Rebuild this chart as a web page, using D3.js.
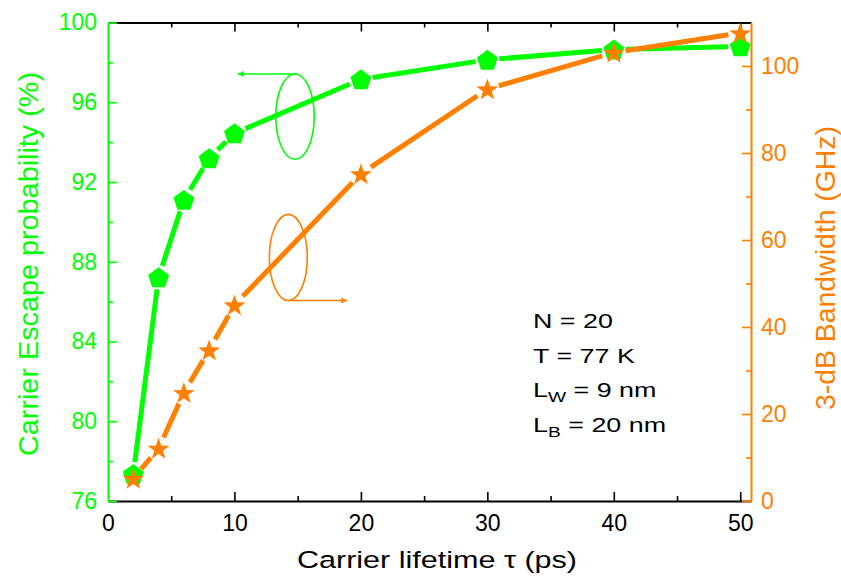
<!DOCTYPE html>
<html>
<head>
<meta charset="utf-8">
<script src="https://cdn.jsdelivr.net/npm/d3@7"></script>
<style>
  html, body { margin: 0; padding: 0; background: #fff; }
  svg { display: block; font-family: "Liberation Sans", Arial, sans-serif; }
</style>
</head>
<body>
<svg id="chart" width="841" height="579"></svg>
<script>
// ---------------- data ----------------
const lifetime = [2, 4, 6, 8, 10, 20, 30, 40, 50];                 // ps
const escapeProb = [77.35, 87.22, 91.1, 93.19, 94.44, 97.15, 98.13, 98.64, 98.8]; // %
const bandwidth = [5.2, 12.1, 24.9, 34.7, 45.06, 75.2, 94.7, 103.1, 107.6];     // GHz

const xMajorTicks = [0, 10, 20, 30, 40, 50];
const xMinorTicks = [5, 15, 25, 35, 45];
const yLeftMajorTicks = [76, 80, 84, 88, 92, 96, 100];
const yLeftMinorTicks = [78, 82, 86, 90, 94, 98];
const yRightMajorTicks = [0, 20, 40, 60, 80, 100];
const yRightMinorTicks = [10, 30, 50, 70, 90];

const annotationLines = [
  { main: "N = 20", sub: null, rest: null },
  { main: "T = 77 K", sub: null, rest: null },
  { main: "L", sub: "W", rest: " = 9 nm" },
  { main: "L", sub: "B", rest: " = 20 nm" }
];

// ---------------- setup ----------------
const GREEN = "#00FF00";
const ORANGE = "#FF8000";
const svg = d3.select("#chart");

const x = d3.scaleLinear().domain([0, 50.85]).range([108, 751]);
const yL = d3.scaleLinear().domain([76, 100]).range([501, 22.5]);
const yR = d3.scaleLinear().domain([0, 110]).range([501, 22.5]);
const plotTop = 22.5, plotBottom = 501, plotLeft = 108, plotRight = 751;

function styleAxis(g, color) {
  g.selectAll("path.domain").attr("stroke", color).attr("stroke-width", 2);
  g.selectAll(".tick line").attr("stroke", color).attr("stroke-width", 1.6);
  g.selectAll(".tick text").attr("fill", color)
    .style("font-family", "'Liberation Sans', Arial, sans-serif")
    .style("font-size", "23px");
}

function minor(axisFn, scale, ticks, color, transform) {
  const g = svg.append("g").attr("transform", transform)
    .call(axisFn(scale).tickValues(ticks).tickSize(-5).tickSizeOuter(0).tickFormat(""));
  g.select("path.domain").remove();
  g.selectAll(".tick line").attr("stroke", color).attr("stroke-width", 1.6);
}

minor(d3.axisBottom, x, xMinorTicks, "#000", `translate(0,${plotBottom})`);
minor(d3.axisTop, x, xMinorTicks, "#000", `translate(0,${plotTop})`);
minor(d3.axisLeft, yL, yLeftMinorTicks, GREEN, `translate(${plotLeft},0)`);
minor(d3.axisRight, yR, yRightMinorTicks, ORANGE, `translate(${plotRight},0)`);

// top axis
const gTop = svg.append("g").attr("transform", `translate(0,${plotTop})`)
  .call(d3.axisTop(x).tickValues(xMajorTicks.filter(v => v > 0)).tickSize(-9).tickSizeOuter(0).tickFormat(""));
styleAxis(gTop, "#000");

// bottom axis
const gBottom = svg.append("g").attr("transform", `translate(0,${plotBottom})`)
  .call(d3.axisBottom(x).tickValues(xMajorTicks).tickSize(-9).tickSizeOuter(0).tickPadding(14));
styleAxis(gBottom, "#000");
gBottom.selectAll(".tick line").filter(d => d === 0).remove();

// left axis
const gLeft = svg.append("g").attr("transform", `translate(${plotLeft},0)`)
  .call(d3.axisLeft(yL).tickValues(yLeftMajorTicks).tickSize(-9).tickSizeOuter(0).tickPadding(11));
styleAxis(gLeft, GREEN);

// right axis
const gRight = svg.append("g").attr("transform", `translate(${plotRight},0)`)
  .call(d3.axisRight(yR).tickValues(yRightMajorTicks).tickSize(-9).tickSizeOuter(0).tickPadding(10));
styleAxis(gRight, ORANGE);

// axis titles
svg.append("text")
  .attr("x", 297).attr("y", 568)
  .attr("font-size", 24.5).attr("fill", "#000")
  .attr("textLength", 280).attr("lengthAdjust", "spacingAndGlyphs")
  .text("Carrier lifetime τ (ps)");

svg.append("text")
  .attr("transform", `translate(38,264) rotate(-90)`)
  .attr("text-anchor", "middle")
  .attr("font-size", 28).attr("fill", GREEN)
  .attr("textLength", 384).attr("lengthAdjust", "spacingAndGlyphs")
  .text("Carrier Escape probability (%)");

svg.append("text")
  .attr("transform", `translate(835,268) rotate(-90)`)
  .attr("text-anchor", "middle")
  .attr("font-size", 28).attr("fill", ORANGE)
  .attr("textLength", 284).attr("lengthAdjust", "spacingAndGlyphs")
  .text("3-dB Bandwidth (GHz)");

// ---------------- series ----------------
function gappedSegments(xs, ys, ysc, gap) {
  const pts = xs.map((v, i) => [x(v), ysc(ys[i])]);
  const segs = [];
  for (let i = 0; i < pts.length - 1; i++) {
    const [x1, y1] = pts[i], [x2, y2] = pts[i + 1];
    const dx = x2 - x1, dy = y2 - y1, L = Math.hypot(dx, dy);
    if (L <= 2 * gap) continue;
    const ux = dx / L, uy = dy / L;
    segs.push([[x1 + ux * gap, y1 + uy * gap], [x2 - ux * gap, y2 - uy * gap]]);
  }
  return segs;
}

function pentagonPath(r) {
  const p = d3.path();
  for (let k = 0; k < 5; k++) {
    const a = -Math.PI / 2 + k * 2 * Math.PI / 5;
    const px = r * Math.cos(a), py = r * Math.sin(a);
    if (k === 0) p.moveTo(px, py); else p.lineTo(px, py);
  }
  p.closePath();
  return p.toString();
}
function starPath(R, r) {
  const p = d3.path();
  for (let k = 0; k < 10; k++) {
    const a = -Math.PI / 2 + k * Math.PI / 5;
    const rad = k % 2 === 0 ? R : r;
    const px = rad * Math.cos(a), py = rad * Math.sin(a);
    if (k === 0) p.moveTo(px, py); else p.lineTo(px, py);
  }
  p.closePath();
  return p.toString();
}

const line = d3.line();

// green series
const greenSegs = gappedSegments(lifetime, escapeProb, yL, 12);
svg.append("g").selectAll("path").data(greenSegs).join("path")
  .attr("d", d => line(d)).attr("stroke", GREEN).attr("stroke-width", 5).attr("fill", "none");
svg.append("g").selectAll("path").data(lifetime).join("path")
  .attr("transform", (d, i) => `translate(${x(d)},${yL(escapeProb[i]) + 1})`)
  .attr("d", pentagonPath(11)).attr("fill", GREEN);

// orange series
const orangeSegs = gappedSegments(lifetime, bandwidth, yR, 12);
svg.append("g").selectAll("path").data(orangeSegs).join("path")
  .attr("d", d => line(d)).attr("stroke", ORANGE).attr("stroke-width", 5).attr("fill", "none");
svg.append("g").selectAll("path").data(lifetime).join("path")
  .attr("transform", (d, i) => `translate(${x(d)},${yR(bandwidth[i]) + 1})`)
  .attr("d", starPath(11.5, 4.6)).attr("fill", ORANGE);

// ---------------- axis-pointer ellipses ----------------
const defs = svg.append("defs");
[["arrG", GREEN], ["arrO", ORANGE]].forEach(([id, c]) => {
  defs.append("marker").attr("id", id).attr("viewBox", "0 0 10 10")
    .attr("refX", 10).attr("refY", 5).attr("markerWidth", 10).attr("markerHeight", 6)
    .attr("markerUnits", "userSpaceOnUse").attr("orient", "auto")
    .append("path").attr("d", "M0,0 L10,5 L0,10 Z").attr("fill", c);
});

const gE = { cx: 14.79, cy: 95.28, rx: 1.52, ry: 2.14, to: 10.26 };
svg.append("ellipse")
  .attr("cx", x(gE.cx)).attr("cy", yL(gE.cy))
  .attr("rx", x(gE.cx + gE.rx) - x(gE.cx)).attr("ry", yL(gE.cy) - yL(gE.cy + gE.ry))
  .attr("fill", "none").attr("stroke", GREEN).attr("stroke-width", 1.6);
svg.append("line")
  .attr("x1", x(gE.cx)).attr("y1", yL(gE.cy + gE.ry))
  .attr("x2", x(gE.to)).attr("y2", yL(gE.cy + gE.ry))
  .attr("stroke", GREEN).attr("stroke-width", 1.4).attr("marker-end", "url(#arrG)");

const oE = { cx: 14.26, cy: 56.0, rx: 1.5, ry: 9.9, to: 18.92 };
svg.append("ellipse")
  .attr("cx", x(oE.cx)).attr("cy", yR(oE.cy))
  .attr("rx", x(oE.cx + oE.rx) - x(oE.cx)).attr("ry", yR(oE.cy) - yR(oE.cy + oE.ry))
  .attr("fill", "none").attr("stroke", ORANGE).attr("stroke-width", 1.6);
svg.append("line")
  .attr("x1", x(oE.cx)).attr("y1", yR(oE.cy - oE.ry))
  .attr("x2", x(oE.to)).attr("y2", yR(oE.cy - oE.ry))
  .attr("stroke", ORANGE).attr("stroke-width", 1.4).attr("marker-end", "url(#arrO)");

// ---------------- annotation ----------------
const ann = svg.append("g").attr("transform", "translate(533,0) scale(1.28,1)");
annotationLines.forEach((d, i) => {
  const t = ann.append("text").attr("x", 0).attr("y", 328.3 + i * 34.5)
    .attr("font-size", 21).attr("fill", "#000");
  t.append("tspan").text(d.main);
  if (d.sub) {
    t.append("tspan").attr("font-size", 15).attr("dy", 5).text(d.sub);
    t.append("tspan").attr("dy", -5).text(d.rest);
  }
});
</script>
</body>
</html>
